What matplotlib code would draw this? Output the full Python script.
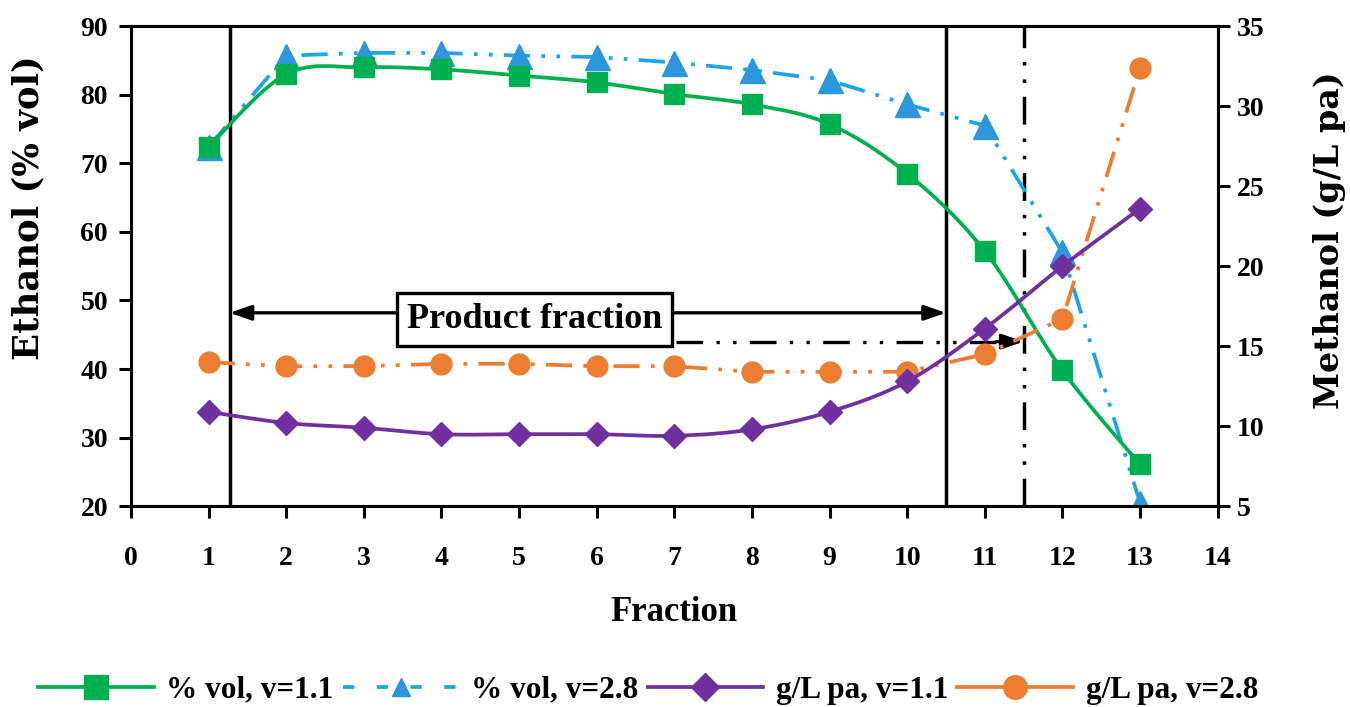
import numpy as np
import matplotlib
matplotlib.use("Agg")
import matplotlib.pyplot as plt
from matplotlib.lines import Line2D

plt.rcParams['font.family'] = ['Liberation Serif', 'DejaVu Serif']
plt.rcParams['font.weight'] = 'bold'

fractions = [1, 2, 3, 4, 5, 6, 7, 8, 9, 10, 11, 12, 13]
ethanol_v11 = [72.4, 83.0, 84.0, 83.7, 82.8, 81.8, 80.1, 78.6, 75.7, 68.5, 57.2, 39.8, 26.1]
ethanol_v28 = [72.4, 85.7, 86.1, 86.1, 85.7, 85.5, 84.7, 83.6, 82.1, 78.6, 75.5, 57.0, 20.5]
methanol_v11 = [10.9, 10.2, 9.9, 9.5, 9.5, 9.5, 9.4, 9.8, 10.9, 12.8, 16.1, 20.0, 23.6]
methanol_v28 = [14.0, 13.75, 13.75, 13.9, 13.9, 13.75, 13.75, 13.4, 13.4, 13.4, 14.5, 16.7, 32.4]

labels = ['% vol, v=1.1', '% vol, v=2.8', 'g/L pa, v=1.1', 'g/L pa, v=2.8']

GREEN = '#00B050'
BLUE = '#1CA7E4'
BLUE_M = '#2E96DC'
PURPLE = '#7030A0'
ORANGE = '#ED7D31'


def smooth(x, y, n=20):
    """Catmull-Rom style smoothing through the given points (Excel smoothed line)."""
    x = np.asarray(x, float)
    y = np.asarray(y, float)
    px = np.concatenate([[x[0]], x, [x[-1]]])
    py = np.concatenate([[y[0]], y, [y[-1]]])
    xs, ys = [], []
    for i in range(1, len(px) - 2):
        p0 = np.array([px[i - 1], py[i - 1]])
        p1 = np.array([px[i], py[i]])
        p2 = np.array([px[i + 1], py[i + 1]])
        p3 = np.array([px[i + 2], py[i + 2]])
        c1 = p1 + (p2 - p0) / 6.0
        c2 = p2 - (p3 - p1) / 6.0
        t = np.linspace(0, 1, n)[:, None]
        pts = ((1 - t) ** 3) * p1 + 3 * ((1 - t) ** 2) * t * c1 + 3 * (1 - t) * t ** 2 * c2 + t ** 3 * p2
        xs.append(pts[:, 0])
        ys.append(pts[:, 1])
    return np.concatenate(xs), np.concatenate(ys)


fig = plt.figure(figsize=(13.5, 7.07), dpi=100)
ax = fig.add_axes([0.097, 0.284, 0.805, 0.679])
ax2 = ax.twinx()

LW = 2.7
dashdotdot = (0, (7, 3, 1.0, 3, 1.0, 3))

# Ethanol series (left)
sx, sy = smooth(fractions, ethanol_v11)
ax.plot(sx, sy, color=GREEN, lw=LW, zorder=4)
ax.plot(fractions, ethanol_v11, ls='none', marker='s', ms=15, color=GREEN, zorder=5)
ax.plot(fractions, ethanol_v28, color=BLUE, lw=LW, ls=dashdotdot, zorder=3)
ax.plot(fractions, ethanol_v28, ls='none', marker='^', ms=18, color=BLUE_M, zorder=3)

# Methanol series (right)
sx2, sy2 = smooth(fractions, methanol_v11)
ax2.plot(sx2, sy2, color=PURPLE, lw=LW, zorder=4)
ax2.plot(fractions, methanol_v11, ls='none', marker='D', ms=12, color=PURPLE, zorder=4)
ax2.plot(fractions, methanol_v28, color=ORANGE, lw=LW, ls=dashdotdot, zorder=3)
ax2.plot(fractions, methanol_v28, ls='none', marker='o', ms=15, color=ORANGE, zorder=3)

ax.set_xlim(0, 14)
ax.set_ylim(20, 90)
ax2.set_ylim(5, 35)
ax.set_xticks(range(0, 15))
ax.set_yticks(range(20, 91, 10))
ax2.set_yticks(range(5, 36, 5))

for a in (ax, ax2):
    for s in a.spines.values():
        s.set_linewidth(2.2)
    a.tick_params(width=2.2, length=8.5, labelsize=20, direction='out')
ax.tick_params(axis='x', pad=20)
ax.tick_params(axis='y', pad=8)
ax2.tick_params(axis='y', pad=5)

ax.set_xlabel('Fraction', fontsize=25, fontweight='bold', labelpad=18)
ax.set_ylabel('Ethanol (% vol)', fontsize=25.5, fontweight='bold', family=['DejaVu Serif'])
ax2.set_ylabel('Methanol (g/L pa)', fontsize=24, fontweight='bold', family=['DejaVu Serif'])
ax.yaxis.set_label_coords(-0.079, 0.623)
ax2.yaxis.set_label_coords(1.088, 0.554)

# Annotations
ax.axvline(1.27, color='black', lw=2.5, zorder=2)
ax.axvline(10.5, color='black', lw=2.5, zorder=2)
ax.axvline(11.5, color='black', lw=2.5, ls=(0, (8, 4, 1.0, 4, 1.0, 4)), zorder=2)

ax.annotate('', xy=(1.27, 48.2), xytext=(10.5, 48.2),
            arrowprops=dict(arrowstyle='<|-|>,head_length=1.3,head_width=0.45',
                            color='black', lw=2.4, shrinkA=0, shrinkB=0), zorder=6)
ax.text(5.2, 47.2, 'Product fraction', fontsize=26, fontweight='bold', ha='center', va='center',
        zorder=8, bbox=dict(boxstyle='square,pad=0.28', fc='white', ec='black', lw=2.4))
ax.plot([7.02, 11.2], [44.0, 44.0], color='black', lw=2.4, ls=(0, (8, 4, 1.0, 4, 1.0, 4)), zorder=6)
ax.annotate('', xy=(11.5, 44.0), xytext=(11.15, 44.0),
            arrowprops=dict(arrowstyle='-|>,head_length=1.3,head_width=0.45',
                            color='black', lw=2.4, shrinkA=0, shrinkB=0), zorder=6)

handles = [
    Line2D([], [], color=GREEN, lw=LW, marker='s', ms=17),
    Line2D([], [], color=BLUE, lw=LW, ls=(0, (3, 6)), marker='^', ms=13, mfc=BLUE_M, mec=BLUE_M),
    Line2D([], [], color=PURPLE, lw=LW, marker='D', ms=14),
    Line2D([], [], color=ORANGE, lw=LW, marker='o', ms=17),
]
fig.legend(handles, labels, loc='center', bbox_to_anchor=(0.48, 0.024), ncol=4, frameon=False,
           prop={'weight': 'bold', 'size': 22.5, 'family': 'Liberation Serif'},
           handlelength=3.7, columnspacing=0.3, handletextpad=0.4)

fig.savefig('out.png', dpi=100)
